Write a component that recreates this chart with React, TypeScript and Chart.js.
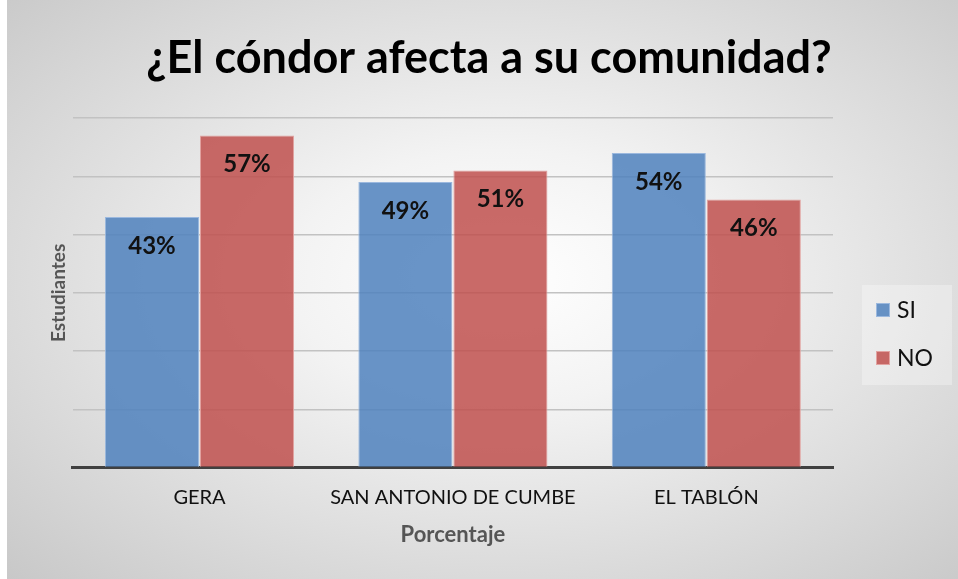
import React, { useEffect, useRef } from "react";
import { Chart, registerables } from "chart.js";

Chart.register(...registerables);

const titleText = "¿El cóndor afecta a su comunidad?";
const categories = ["GERA", "SAN ANTONIO DE CUMBE", "EL TABLÓN"];
const seriesNames = ["SI", "NO"];
const siValues = [43, 49, 54];
const noValues = [57, 51, 46];
const yTitle = "Estudiantes";
const xTitle = "Porcentaje";

const FONT = "Lato, 'Open Sans', sans-serif";

export default function App() {
  const ref = useRef<HTMLCanvasElement | null>(null);

  useEffect(() => {
    if (!ref.current) return;
    const titlePlugin = {
      id: "customTitle",
      afterDraw(chart: any) {
        const ctx = chart.ctx;
        ctx.save();
        ctx.font = `bold 45px ${FONT}`;
        ctx.fillStyle = "#000";
        ctx.textAlign = "center";
        ctx.textBaseline = "alphabetic";
        ctx.fillText(titleText, 482, 73);
        ctx.restore();
      },
    };
    const labelPlugin = {
      id: "barLabels",
      afterDatasetsDraw(chart: any) {
        const ctx = chart.ctx;
        ctx.save();
        ctx.font = `bold 24px ${FONT}`;
        ctx.fillStyle = "#111";
        ctx.textAlign = "center";
        ctx.textBaseline = "middle";
        chart.data.datasets.forEach((ds: any, di: number) => {
          const meta = chart.getDatasetMeta(di);
          meta.data.forEach((el: any, i: number) => {
            ctx.fillText(ds.data[i] + "%", el.x, el.y + 29);
          });
        });
        ctx.restore();
      },
    };
    const legendPlugin = {
      id: "customLegend",
      afterDraw(chart: any) {
        const ctx = chart.ctx;
        ctx.save();
        ctx.fillStyle = "rgba(255,255,255,0.3)";
        ctx.fillRect(855, 285, 90, 100);
        ctx.font = `23px ${FONT}`;
        ctx.textBaseline = "middle";
        ctx.textAlign = "left";
        chart.data.datasets.forEach((ds: any, i: number) => {
          const y = 310 + i * 48;
          ctx.fillStyle = ds.backgroundColor;
          ctx.fillRect(869, y - 7, 14, 14);
          ctx.strokeStyle = ds.borderColor;
          ctx.lineWidth = 1;
          ctx.strokeRect(869.5, y - 6.5, 13, 13);
          ctx.fillStyle = "#111";
          ctx.fillText(ds.label, 890, y + 1);
        });
        ctx.restore();
      },
    };
    const chart = new Chart(ref.current, {
      type: "bar",
      data: {
        labels: categories,
        datasets: [
          {
            label: seriesNames[0],
            data: siValues,
            backgroundColor: "rgba(79,129,189,0.85)",
            borderColor: "#9bb8de",
            borderWidth: 1,
          },
          {
            label: seriesNames[1],
            data: noValues,
            backgroundColor: "rgba(192,80,77,0.85)",
            borderColor: "#e2a3a1",
            borderWidth: 1,
          },
        ],
      },
      options: {
        animation: false,
        responsive: false,
        maintainAspectRatio: false,
        layout: { padding: { left: 0, right: 125, top: 118, bottom: 0 } },
        datasets: { bar: { categoryPercentage: 0.75, barPercentage: 0.99 } },
        plugins: {
          legend: { display: false },
          tooltip: { enabled: false },
          title: { display: false },
        },
        scales: {
          y: {
            min: 0,
            max: 60,
            ticks: { display: false, stepSize: 10 },
            grid: { color: "#c2c2c2", lineWidth: 1.5, drawTicks: false },
            border: { display: false },
            title: {
              display: true,
              text: yTitle,
              color: "#555",
              font: { family: FONT, size: 19, weight: "bold" },
              padding: { top: 40, bottom: 3 },
            },
          },
          x: {
            grid: { display: false, drawTicks: false },
            border: { display: true, color: "#404040", width: 3 },
            ticks: { color: "#111", font: { family: FONT, size: 20 }, padding: 18 },
            title: {
              display: true,
              text: xTitle,
              color: "#555",
              font: { family: FONT, size: 22, weight: "bold" },
              padding: { top: -6, bottom: 31 },
            },
          },
        },
      },
      plugins: [labelPlugin, legendPlugin, titlePlugin],
    });
    return () => chart.destroy();
  }, []);

  return (
    <div
      style={{
        position: "fixed",
        left: 0,
        top: 0,
        width: 958,
        height: 579,
        background: "#fff",
      }}
    >
      <div
        style={{
          position: "absolute",
          left: 7,
          top: 0,
          width: 951,
          height: 579,
          background:
            "radial-gradient(ellipse at 52% 48%, #ffffff 0%, #f3f3f3 30%, #c8c8c8 100%)",
        }}
      >
        <canvas ref={ref} width={951} height={579} style={{ display: "block" }} />
      </div>
    </div>
  );
}
